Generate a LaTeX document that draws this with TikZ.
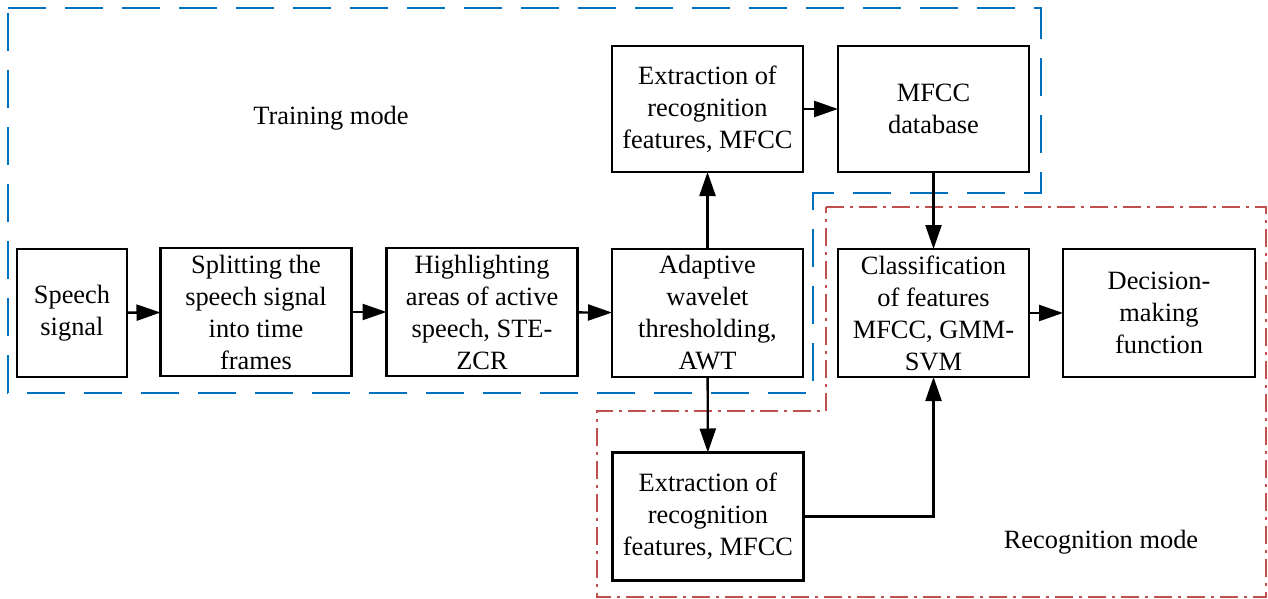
\documentclass[tikz,border=0pt]{standalone}
\usepackage{fontspec}
\setmainfont{Liberation Serif}
\usetikzlibrary{arrows.meta}
\definecolor{tblue}{RGB}{0,112,192}
\definecolor{rred}{RGB}{192,80,77}
\begin{document}
\begin{tikzpicture}[x=0.5pt,y=-0.5pt,
  font=\fontsize{13.2}{16}\selectfont,
  blk/.style={draw=black,line width=1.3pt,align=center,inner sep=0pt,outer sep=0pt,
     minimum width=95.5pt,minimum height=64pt},
  conn/.style={line width=1.2pt,-{Triangle[length=12pt,width=8pt]}},
  trainbox/.style={draw=tblue,line width=1pt,dash pattern=on 19pt off 9.5pt},
  recbox/.style={draw=rred,line width=1pt,dash pattern=on 9pt off 3pt on 1.5pt off 3pt}]
\useasboundingbox (0,0) rectangle (1268,599);
% regions
\draw[trainbox] (8,8) -- (1041,8) -- (1041,193) -- (813,193) -- (813,393) -- (8,393) -- cycle;
\draw[recbox] (826,207) -- (1266,207) -- (1266,597) -- (597,597) -- (597,411) -- (826,411) -- cycle;
\node (tm) at (331,118) {Training mode};
\node (rm) at (1101,542) {Recognition mode};
% blocks
\node[blk,minimum width=55pt] (sp) at (72,313) {Speech\\signal};
\node[blk] (split) at (256,312) {Splitting the\\speech signal\\into time\\frames};
\node[blk] (high) at (482,312) {Highlighting\\areas of active\\speech, STE-\\ZCR};
\node[blk] (awt) at (707.5,313) {Adaptive\\wavelet\\thresholding,\\AWT};
\node[blk,minimum height=63pt] (ext1) at (707.5,109) {Extraction of\\recognition\\features, MFCC};
\node[blk,minimum height=63pt] (db) at (933.5,109) {MFCC\\database};
\node[blk] (cls) at (933.5,313) {Classification\\of features\\MFCC, GMM-\\SVM};
\node[blk,minimum width=96pt] (dec) at (1159,313) {Decision-\\making\\function};
\node[blk] (ext2) at (708,516.5) {Extraction of\\recognition\\features, MFCC};
% connectors
\draw[conn] (sp) -- (split);
\draw[conn] (split) -- (high);
\draw[conn] (high) -- (awt);
\draw[conn] (awt) -- (ext1);
\draw[conn] (awt) -- (ext2);
\draw[conn] (ext1) -- (db);
\draw[conn] (db) -- (cls);
\draw[conn] (cls) -- (dec);
\draw[conn] (ext2.east) -| (cls.south);
\end{tikzpicture}
\end{document}
